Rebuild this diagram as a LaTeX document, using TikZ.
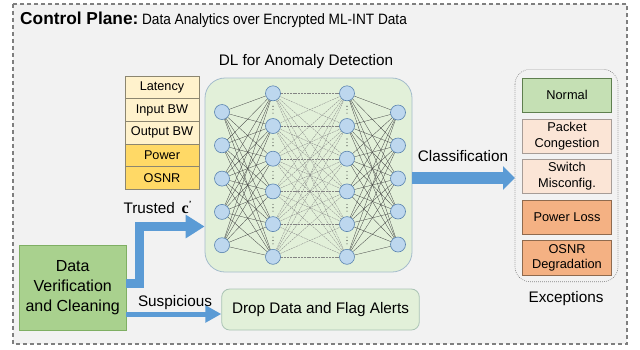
\documentclass[tikz,border=0pt]{standalone}
\usepackage{fontspec}
\setmainfont{Liberation Sans}
\newfontfamily\serifbold{Liberation Serif Bold}
\newfontfamily\titlereg[FakeStretch=0.91]{Liberation Sans}
\usetikzlibrary{arrows.meta,calc}

\definecolor{panelbg}{HTML}{F2F2F2}
\definecolor{frameline}{HTML}{7F7F7F}
\definecolor{featlight}{HTML}{FFF2CC}
\definecolor{featdark}{HTML}{FFD966}
\definecolor{featline}{HTML}{8C8670}
\definecolor{nnfill}{HTML}{E2F0D9}
\definecolor{nnline}{HTML}{A4BCCC}
\definecolor{neuronfill}{HTML}{BDD7EE}
\definecolor{neuronline}{HTML}{5A84B0}
\definecolor{linkcol}{HTML}{404040}
\definecolor{arrowblue}{HTML}{5B9BD5}
\definecolor{dvfill}{HTML}{A9D18E}
\definecolor{dvline}{HTML}{7FAF63}
\definecolor{dropline}{HTML}{A9C3B4}
\definecolor{normfill}{HTML}{C5E0B4}
\definecolor{normline}{HTML}{5E7F4E}
\definecolor{softfill}{HTML}{FBE5D6}
\definecolor{softline}{HTML}{A69C96}
\definecolor{hardfill}{HTML}{F4B183}
\definecolor{hardline}{HTML}{8F6A4E}

\pgfdeclarelayer{bg}
\pgfdeclarelayer{links}
\pgfsetlayers{bg,links,main}

\begin{document}
\begin{tikzpicture}[x=1pt,y=-1pt,
  lbl/.style={inner sep=0pt, font=\fontsize{15.3}{18}\selectfont},
  feat/.style={draw=featline, line width=0.6pt, minimum width=74pt,
    minimum height=22.7pt, inner sep=0pt, font=\fontsize{12.7}{14}\selectfont},
  exbox/.style={minimum width=89.4pt, minimum height=34.3pt, inner sep=0pt,
    align=center, line width=0.7pt, font=\fontsize{12.8}{15.6}\selectfont},
  neuron/.style={circle, draw=neuronline, fill=neuronfill, minimum size=15pt,
    inner sep=0pt, line width=0.6pt},
  link/.style={draw=linkcol, line width=0.3pt},
  midlink/.style={draw=linkcol!65, line width=0.3pt, dash pattern=on 2pt off 0.8pt},
  fat/.style={draw=arrowblue, line join=miter}
]
\useasboundingbox (0,0) rectangle (640,349);

% outer dashed panel and the network frame
\begin{pgfonlayer}{bg}
\draw[fill=panelbg, draw=frameline, line width=1.1pt, dash pattern=on 4pt off 3pt]
  (13,4) rectangle (627,344);
\node[draw=nnline, fill=nnfill, rounded corners=20pt, line width=0.8pt,
  minimum width=207pt, minimum height=194pt, inner sep=0pt] (nn) at (308.5,175) {};
\end{pgfonlayer}

% title
\node[anchor=base west, inner sep=0pt] (title) at (20,24)
  {{\fontsize{17.3}{18}\selectfont\bfseries Control Plane:} {\titlereg\fontsize{15}{16}\selectfont Data Analytics over Encrypted ML-INT Data}};

\node[lbl, anchor=base] (dltitle) at (306,65) {DL for Anomaly Detection};

% input feature table
\node[feat, fill=featlight] (f1) at (162,87.3) {Latency};
\node[feat, fill=featlight] (f2) at (162,110) {Input BW};
\node[feat, fill=featlight] (f3) at (162,132.7) {Output BW};
\node[feat, fill=featdark] (f4) at (162,155.4) {Power};
\node[feat, fill=featdark] (f5) at (162,178.1) {OSNR};

% neurons
\foreach \i in {1,...,5} {
  \node[neuron] (a\i) at (222,{112+33.3*(\i-1)}) {};
  \node[neuron] (d\i) at (398,{112.5+33*(\i-1)}) {};
}
\foreach \i in {1,...,6} {
  \node[neuron] (b\i) at (273,{93.3+32.7*(\i-1)}) {};
  \node[neuron] (c\i) at (347,{93.3+32.7*(\i-1)}) {};
}

% connections
\begin{pgfonlayer}{links}
\foreach \i in {1,...,5} \foreach \j in {1,...,6} {
  \draw[link] (a\i.center) -- (b\j.center);
  \draw[link] (c\j.center) -- (d\i.center);
}
\foreach \i in {1,...,6} \foreach \j in {1,...,6} {
  \draw[midlink] (b\i.center) -- (c\j.center);
}
\end{pgfonlayer}

% vertical dots between hidden neurons
\foreach \i [evaluate=\i as \m using {93.3+32.7*(\i-1)+16.35}] in {1,...,5} {
  \foreach \xx in {273,347} {
    \foreach \dy in {-3.4,0,3.4}
      \fill[black!80] (\xx,\m+\dy) circle (0.55pt);
  }
}

% exceptions
\draw[draw=frameline, line width=0.6pt, dash pattern=on 0.8pt off 1.2pt,
  rounded corners=15pt] (515,69.3) rectangle (618,281.7);
\coordinate (excw) at (515,175.5);
\node[exbox, draw=normline, fill=normfill] (e1) at (567,95.3) {Normal};
\node[exbox, draw=softline, fill=softfill] (e2) at (567,136.2) {Packet\\Congestion};
\node[exbox, draw=softline, fill=softfill] (e3) at (567,176.2) {Switch\\Misconfig.};
\node[exbox, draw=hardline, fill=hardfill] (e4) at (567,217.2) {Power Loss};
\node[exbox, draw=hardline, fill=hardfill] (e5) at (567,257.9) {OSNR\\Degradation};
\node[lbl, anchor=base] (exlbl) at (566,302) {Exceptions};

% classification arrow
\draw[fat, line width=12pt, -{Triangle[length=12pt, width=23pt]}]
  (nn.east |- 0,178) -- (excw |- 0,178);
\node[lbl, anchor=base] (clbl) at (463,161.7) {Classification};

% data verification
\node[draw=dvline, fill=dvfill, line width=0.8pt, minimum width=106.7pt,
  minimum height=85pt, inner sep=0pt, align=center,
  font=\fontsize{16}{19.7}\selectfont] (dv) at (72.7,287.5)
  {Data\\Verification\\and Cleaning};

\node[draw=dropline, fill=nnfill, line width=0.8pt, rounded corners=8pt,
  minimum width=197.6pt, minimum height=41pt, inner sep=0pt,
  font=\fontsize{15.3}{18}\selectfont] (drop) at (320.5,309.5)
  {Drop Data and Flag Alerts};

% trusted path into the network
\draw[fat, line width=9pt, -{Triangle[length=19pt, width=22.5pt]}]
  (dv.east |- 0,283) -- (139.5,283) -- (139.5,226.5) -- (nn.west |- 0,226.5);
\node[lbl, anchor=base west] (tlbl) at (123.3,213.3) {Trusted};
\node[inner sep=0pt, anchor=base west] (cvec) at (181.5,213.3)
  {{\serifbold\fontsize{16}{16}\selectfont c}\raisebox{7pt}{\serifbold\fontsize{8}{8}\selectfont\textquoteright}};

% suspicious path
\draw[fat, line width=5pt, -{Triangle[length=16pt, width=16.5pt]}]
  (dv.east |- 0,314) -- (drop.west |- 0,314);
\node[lbl, anchor=base] (slbl) at (175,306.7) {Suspicious};
\end{tikzpicture}
\end{document}
